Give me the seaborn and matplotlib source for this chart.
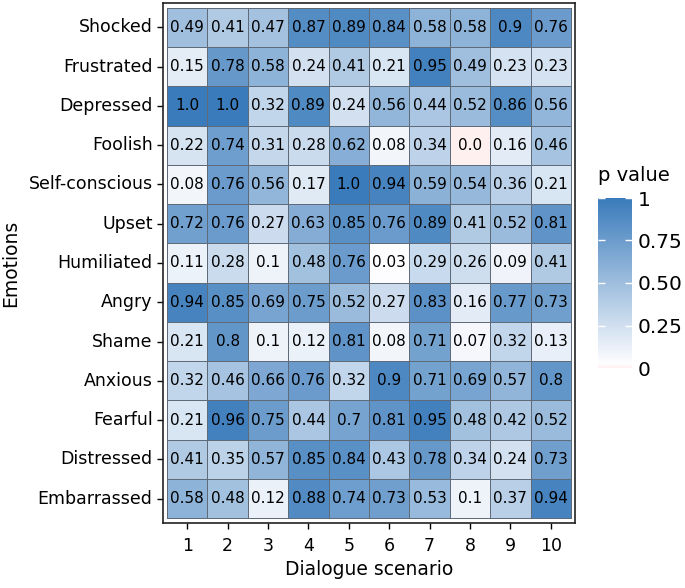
import numpy as np
import pandas as pd
import seaborn as sns
import matplotlib.pyplot as plt
from matplotlib.colors import LinearSegmentedColormap

# righe (emozioni) dall'alto verso il basso
emotions = ["Shocked", "Frustrated", "Depressed", "Foolish", "Self-conscious", "Upset",
            "Humiliated", "Angry", "Shame", "Anxious", "Fearful", "Distressed", "Embarrassed"]
scenarios = [1, 2, 3, 4, 5, 6, 7, 8, 9, 10]

shocked = [0.49, 0.41, 0.47, 0.87, 0.89, 0.84, 0.58, 0.58, 0.9, 0.76]
frustrated = [0.15, 0.78, 0.58, 0.24, 0.41, 0.21, 0.95, 0.49, 0.23, 0.23]
depressed = [1.0, 1.0, 0.32, 0.89, 0.24, 0.56, 0.44, 0.52, 0.86, 0.56]
foolish = [0.22, 0.74, 0.31, 0.28, 0.62, 0.08, 0.34, 0.0, 0.16, 0.46]
self_conscious = [0.08, 0.76, 0.56, 0.17, 1.0, 0.94, 0.59, 0.54, 0.36, 0.21]
upset = [0.72, 0.76, 0.27, 0.63, 0.85, 0.76, 0.89, 0.41, 0.52, 0.81]
humiliated = [0.11, 0.28, 0.1, 0.48, 0.76, 0.03, 0.29, 0.26, 0.09, 0.41]
angry = [0.94, 0.85, 0.69, 0.75, 0.52, 0.27, 0.83, 0.16, 0.77, 0.73]
shame = [0.21, 0.8, 0.1, 0.12, 0.81, 0.08, 0.71, 0.07, 0.32, 0.13]
anxious = [0.32, 0.46, 0.66, 0.76, 0.32, 0.9, 0.71, 0.69, 0.57, 0.8]
fearful = [0.21, 0.96, 0.75, 0.44, 0.7, 0.81, 0.95, 0.48, 0.42, 0.52]
distressed = [0.41, 0.35, 0.57, 0.85, 0.84, 0.43, 0.78, 0.34, 0.24, 0.73]
embarrassed = [0.58, 0.48, 0.12, 0.88, 0.74, 0.73, 0.53, 0.1, 0.37, 0.94]

rows = [shocked, frustrated, depressed, foolish, self_conscious, upset, humiliated,
        angry, shame, anxious, fearful, distressed, embarrassed]

df = pd.DataFrame(rows, index=emotions, columns=scenarios)
labels = df.map(str)

cmap = LinearSegmentedColormap.from_list(
    "pv", [(0.0, "#fff0f0"), (0.025, "#fdfdff"), (1.0, "#3a7bbb")])

fig = plt.figure(figsize=(6.85, 5.88), dpi=100)
W, H = 685, 588
ax = fig.add_axes([163 / W, 1 - 523 / H, (575 - 163) / W, (523 - 3) / H])
cax = fig.add_axes([598 / W, 1 - 368 / H, 34 / W, (368 - 198) / H])

sns.heatmap(df, ax=ax, cbar_ax=cax, cmap=cmap, vmin=0, vmax=1,
            annot=labels, fmt="", annot_kws={"fontsize": 11, "color": "black"},
            linewidths=0.6, linecolor="#5f6b78")

ax.set_xlim(-0.1, 10.1)
ax.set_ylim(13.12, -0.12)
for s in ax.spines.values():
    s.set_visible(True)
    s.set_color("#222222")
    s.set_linewidth(1.2)

ax.tick_params(axis="both", length=4, width=1, color="black", labelsize=12.5)
ax.tick_params(axis="x", pad=6)
ax.set_yticklabels(emotions, rotation=0)
ax.set_xticklabels(scenarios, rotation=0)
ax.set_xlabel("Dialogue scenario", fontsize=13.5, labelpad=4)
ax.set_ylabel("Emotions", fontsize=13.5, labelpad=6)

cbar = ax.collections[0].colorbar
cbar.set_ticks([0, 0.25, 0.5, 0.75, 1])
cbar.set_ticklabels(["0", "0.25", "0.50", "0.75", "1"])
cbar.outline.set_visible(False)
cax.tick_params(axis="y", direction="in", length=5, width=1, color="white",
                labelsize=14.5, left=True, right=True, pad=4)
cax.set_title("p value", fontsize=14, loc="left", pad=12)

fig.savefig("out.png", dpi=100)
